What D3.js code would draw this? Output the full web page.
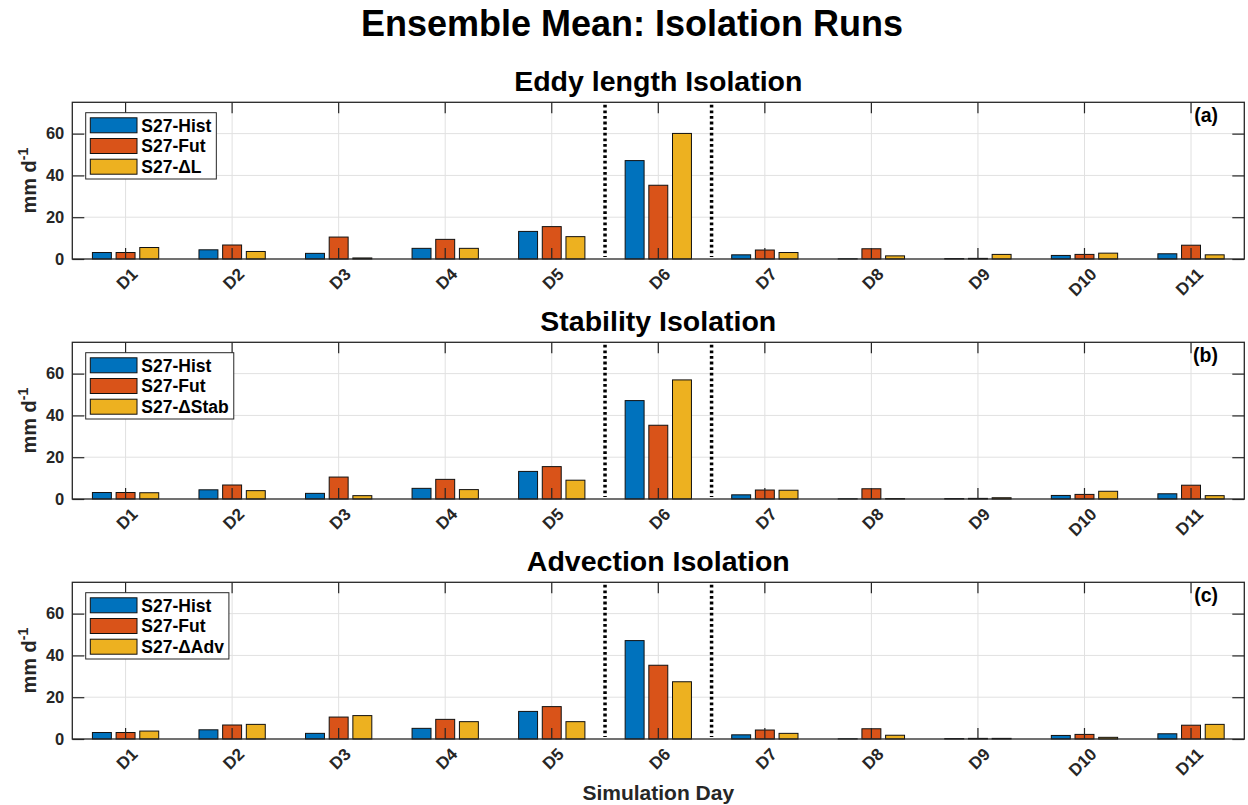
<!DOCTYPE html>
<html>
<head>
<meta charset="utf-8">
<script src="https://cdn.jsdelivr.net/npm/d3@7"></script>
<style>
  body { margin: 0; background: #fff; }
  svg { display: block; font-family: "Liberation Sans", Arial, sans-serif; font-weight: bold; }
</style>
</head>
<body>
<svg id="chart" width="1248" height="805"></svg>
<script>
'use strict';

// values (mm/day)
var days = ['D1', 'D2', 'D3', 'D4', 'D5', 'D6', 'D7', 'D8', 'D9', 'D10', 'D11'];
var histValues = [3.1, 4.4, 2.7, 5.1, 13.2, 47.1, 2.0, 0.1, 0.2, 1.7, 2.5];
var futValues = [3.1, 6.7, 10.5, 9.4, 15.5, 35.3, 4.3, 4.9, 0.3, 2.2, 6.6];
var deltaLValues = [5.5, 3.6, 0.5, 5.1, 10.7, 60.1, 3.1, 1.5, 2.2, 2.8, 2.0];
var deltaStabValues = [3.0, 4.0, 1.6, 4.5, 9.0, 57.0, 4.2, 0.2, 0.6, 3.7, 1.6];
var deltaAdvValues = [3.8, 7.0, 11.2, 8.3, 8.3, 27.4, 2.7, 1.8, 0.3, 0.8, 7.0];
var yTicks = [0, 20, 40, 60];
var yMax = 75;
var dividerAfter = ['D5', 'D6'];

var panelTitles = ['Eddy length Isolation', 'Stability Isolation', 'Advection Isolation'];
var panelLetters = ['(a)', '(b)', '(c)'];
var seriesNames = [
    ['S27-Hist', 'S27-Fut', 'S27-\u0394L'],
    ['S27-Hist', 'S27-Fut', 'S27-\u0394Stab'],
    ['S27-Hist', 'S27-Fut', 'S27-\u0394Adv']
];
var panelSeries = [
    [histValues, futValues, deltaLValues],
    [histValues, futValues, deltaStabValues],
    [histValues, futValues, deltaAdvValues]
];
var barColors = ['#0072BD', '#D95319', '#EDB120'];

var axLeft = 72.3, axRight = 1244.3, axHeight = 156.7;
var panelTops = [102.3, 342.3, 582.3];
var axisColor = '#262626';
var gridColor = '#e1e1e1';

var svg = d3.select('#chart');

svg.append('text')
    .attr('x', 632).attr('y', 36)
    .attr('text-anchor', 'middle')
    .style('font-size', '36px')
    .attr('fill', '#000')
    .text('Ensemble Mean: Isolation Runs');

var x = d3.scaleBand().domain(days).range([axLeft, axRight]).paddingInner(0).paddingOuter(0);
var bw = x.bandwidth();
var xInner = d3.scaleBand().domain([0, 1, 2])
    .range([bw / 2 - bw / 3, bw / 2 + bw / 3])
    .paddingInner(0.2).paddingOuter(0.1);

function DrawPanel(p) {
    var top = panelTops[p];
    var bottom = top + axHeight;
    var y = d3.scaleLinear().domain([0, yMax]).range([bottom, top]);
    var g = svg.append('g').classed('panel', true);

    // grid
    g.append('g').selectAll('line.vgrid').data(days).enter()
        .append('line')
            .attr('x1', function(d) { return x(d) + bw / 2; })
            .attr('x2', function(d) { return x(d) + bw / 2; })
            .attr('y1', top).attr('y2', bottom)
            .attr('stroke', gridColor).attr('stroke-width', 1);
    g.append('g').selectAll('line.hgrid').data(yTicks.filter(function(t) { return t > 0; })).enter()
        .append('line')
            .attr('x1', axLeft).attr('x2', axRight)
            .attr('y1', function(d) { return y(d); })
            .attr('y2', function(d) { return y(d); })
            .attr('stroke', gridColor).attr('stroke-width', 1);

    // bars
    var series = panelSeries[p];
    var groups = g.append('g').selectAll('g.day').data(days).enter()
        .append('g')
            .attr('transform', function(d) { return 'translate(' + x(d) + ',0)'; });
    groups.selectAll('rect').data(function(d, i) {
            return series.map(function(vals, s) { return {s: s, v: vals[i]}; });
        }).enter()
        .append('rect')
            .attr('x', function(d) { return xInner(d.s); })
            .attr('width', xInner.bandwidth())
            .attr('y', function(d) { return y(d.v); })
            .attr('height', function(d) { return bottom - y(d.v); })
            .attr('fill', function(d) { return barColors[d.s]; })
            .attr('stroke', '#111')
            .attr('stroke-width', 1);

    // dotted dividers around D6
    g.append('g').selectAll('line.divider').data(dividerAfter).enter()
        .append('line')
            .attr('x1', function(d) { return x(d) + bw; })
            .attr('x2', function(d) { return x(d) + bw; })
            .attr('y1', y(yMax) + 2.5).attr('y2', bottom - 2)
            .attr('stroke', '#000')
            .attr('stroke-width', 3.5)
            .attr('stroke-dasharray', '2.8,2.8');

    // axes (ticks point inward, box on)
    var gx = g.append('g').attr('transform', 'translate(0,' + bottom + ')')
        .call(d3.axisBottom(x).tickSizeInner(-11).tickSizeOuter(0).tickPadding(0));
    gx.selectAll('text')
        .attr('x', 9).attr('y', 12).attr('dy', '0.35em')
        .attr('text-anchor', 'end')
        .attr('transform', 'rotate(-45,9,12)')
        .style('font-size', '17px').style('font-family', null)
        .attr('fill', axisColor);
    g.append('g').attr('transform', 'translate(0,' + top + ')')
        .call(d3.axisTop(x).tickSizeInner(-11).tickSizeOuter(0).tickFormat(''));
    var gy = g.append('g').attr('transform', 'translate(' + axLeft + ',0)')
        .call(d3.axisLeft(y).tickValues(yTicks).tickSizeInner(-12).tickSizeOuter(0).tickPadding(8));
    gy.selectAll('text')
        .style('font-size', '16.5px').style('font-family', null)
        .attr('fill', axisColor);
    g.append('g').attr('transform', 'translate(' + axRight + ',0)')
        .call(d3.axisRight(y).tickValues(yTicks).tickSizeInner(-12).tickSizeOuter(0).tickFormat(''));
    g.selectAll('.domain').remove();
    g.selectAll('.tick line').attr('stroke', axisColor).attr('stroke-width', 1.2);
    g.append('rect')
        .attr('x', axLeft).attr('y', top)
        .attr('width', axRight - axLeft).attr('height', axHeight)
        .attr('fill', 'none').attr('stroke', axisColor).attr('stroke-width', 1.3);

    // titles and labels
    svg.append('text')
        .attr('x', (axLeft + axRight) / 2).attr('y', top - 11)
        .attr('text-anchor', 'middle')
        .style('font-size', '28.5px')
        .attr('fill', '#000')
        .text(panelTitles[p]);
    svg.append('text')
        .attr('x', 1218).attr('y', top + 19.5)
        .attr('text-anchor', 'end')
        .style('font-size', '19.5px')
        .attr('fill', '#000')
        .text(panelLetters[p]);
    var ylab = svg.append('text')
        .attr('transform', 'translate(36,' + (top + axHeight / 2) + ') rotate(-90)')
        .attr('text-anchor', 'middle')
        .style('font-size', '20px')
        .attr('fill', axisColor);
    ylab.append('tspan').text('mm d');
    ylab.append('tspan').attr('dy', -8).style('font-size', '14px').text('-1');

    // legend
    var legX = 85.7, legY = top + 10.4;
    var leg = svg.append('g').attr('transform', 'translate(' + legX + ',' + legY + ')');
    var box = leg.append('rect')
        .attr('fill', '#fff').attr('stroke', axisColor).attr('stroke-width', 1);
    var rows = leg.selectAll('g.entry').data(seriesNames[p]).enter()
        .append('g')
            .attr('transform', function(d, i) { return 'translate(0,' + (12.6 + i * 20.7) + ')'; });
    rows.append('rect')
        .attr('x', 4.6).attr('y', -7.5)
        .attr('width', 46.7).attr('height', 15)
        .attr('fill', function(d, i) { return barColors[i]; })
        .attr('stroke', '#111').attr('stroke-width', 1);
    var labels = rows.append('text')
        .attr('x', 55.6).attr('dy', '0.36em')
        .style('font-size', '17.5px')
        .attr('fill', '#000')
        .text(function(d) { return d; });
    var maxW = 0;
    labels.each(function() { maxW = Math.max(maxW, this.getComputedTextLength()); });
    box.attr('width', 55.6 + maxW + 5).attr('height', 66.3);
}

for (var p = 0; p < 3; p++) {
    DrawPanel(p);
}

svg.append('text')
    .attr('x', (axLeft + axRight) / 2).attr('y', 800)
    .attr('text-anchor', 'middle')
    .style('font-size', '21px')
    .attr('fill', axisColor)
    .text('Simulation Day');
</script>
</body>
</html>
